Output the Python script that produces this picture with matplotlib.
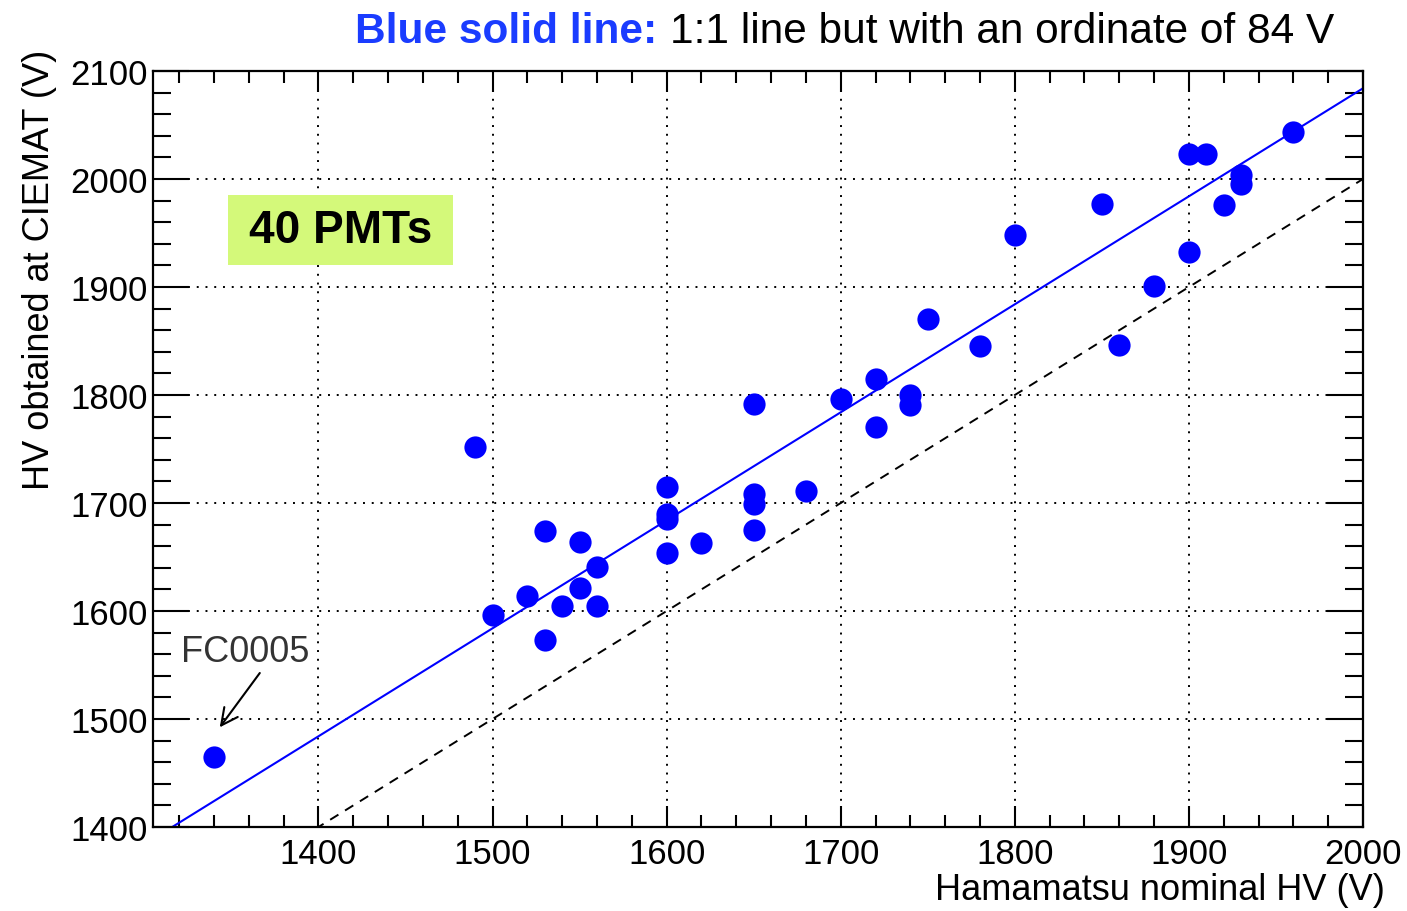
import matplotlib
matplotlib.use('Agg')
import matplotlib.pyplot as plt
from matplotlib.patches import Rectangle
import numpy as np

plt.rcParams['font.family'] = ['Liberation Sans', 'DejaVu Sans']

# Hamamatsu nominal HV vs HV measured at CIEMAT, one entry per PMT
hv_nominal = [1340, 1490, 1500, 1520, 1530, 1530, 1540, 1550, 1550, 1560,
              1560, 1600, 1600, 1600, 1600, 1620, 1650, 1650, 1650, 1650,
              1680, 1700, 1720, 1720, 1740, 1740, 1750, 1780, 1800, 1850,
              1860, 1880, 1900, 1900, 1910, 1920, 1930, 1930, 1960]
hv_ciemat = [1465, 1752, 1596, 1614, 1573, 1674, 1605, 1621, 1664, 1641,
             1605, 1715, 1690, 1685, 1654, 1663, 1792, 1708, 1699, 1675,
             1711, 1796, 1815, 1770, 1800, 1791, 1870, 1845, 1948, 1977,
             1846, 1901, 2023, 1932, 2023, 1976, 2004, 1995, 2044]

offset = 84  # ordinate of the shifted 1:1 line
x_range = [1305, 2000]
y_range = [1400, 2100]

fig = plt.figure(figsize=(14.07, 9.12), dpi=100)
ax = fig.add_axes([0.1088, 0.0921, 0.8599, 0.8289])

# 1:1 line and 1:1 shifted by the offset
xl = np.array(x_range, dtype=float)
ax.plot(xl, xl, color='black', linestyle=(0, (5, 4)), linewidth=1.4, zorder=2)
ax.plot(xl, xl + offset, color='#0000ff', linewidth=1.5, zorder=2)

ax.plot(hv_nominal, hv_ciemat, 'o', color='#0000ff', markersize=16,
        markeredgewidth=0, zorder=3)

ax.set_xlim(x_range)
ax.set_ylim(y_range)
ax.set_xticks(np.arange(1400, 2001, 100))
ax.set_yticks(np.arange(1400, 2101, 100))
ax.set_xticks(np.arange(1320, 2001, 20), minor=True)
ax.set_yticks(np.arange(1400, 2101, 20), minor=True)

ax.tick_params(axis='both', which='both', direction='in', top=True, right=True,
               width=1.5, labelsize=25, colors='black')
ax.tick_params(axis='x', which='major', length=15, pad=7)
ax.tick_params(axis='x', which='minor', length=8.5)
ax.tick_params(axis='y', which='major', length=26, pad=4)
ax.tick_params(axis='y', which='minor', length=13)
for s in ax.spines.values():
    s.set_linewidth(1.6)

ax.grid(True, which='major', color='black', linestyle=(0, (1, 3.5)), linewidth=1.4)
ax.set_axisbelow(True)

ax.set_xlabel('Hamamatsu nominal HV (V)', fontsize=26)
ax.xaxis.set_label_coords(1.018, -0.06)
ax.xaxis.label.set_horizontalalignment('right')
ax.set_ylabel('HV obtained at CIEMAT (V)', fontsize=26)
ax.yaxis.set_label_coords(-0.108, 1.029)
ax.yaxis.label.set_verticalalignment('top')
ax.yaxis.label.set_horizontalalignment('right')

# header
fig.text(0.2523, 0.965, 'Blue solid line:', fontsize=30.5, fontweight='bold',
         color='#1a3cff', va='center', ha='left')
fig.text(0.4762, 0.965, '1:1 line but with an ordinate of 84 V', fontsize=30.5,
         color='black', va='center', ha='left')

# "40 PMTs" label on a lime box
ax.add_patch(Rectangle((0.062, 0.743), 0.186, 0.093, transform=ax.transAxes,
                       facecolor='#d4f97a', edgecolor='none', zorder=4))
ax.text(0.155, 0.79, '40 PMTs', transform=ax.transAxes, fontsize=33,
        fontweight='bold', ha='center', va='center', zorder=5)

# label and arrow for the outlier
ax.text(1321, 1554, 'FC0005', fontsize=26, color='#333333', ha='left', va='baseline')
ax.annotate('', xy=(1343.3, 1492.3), xytext=(1366.3, 1542.6),
            arrowprops=dict(arrowstyle='->', color='black', lw=1.5,
                            shrinkA=0, shrinkB=0, mutation_scale=30))

fig.savefig('out.png', dpi=100)
